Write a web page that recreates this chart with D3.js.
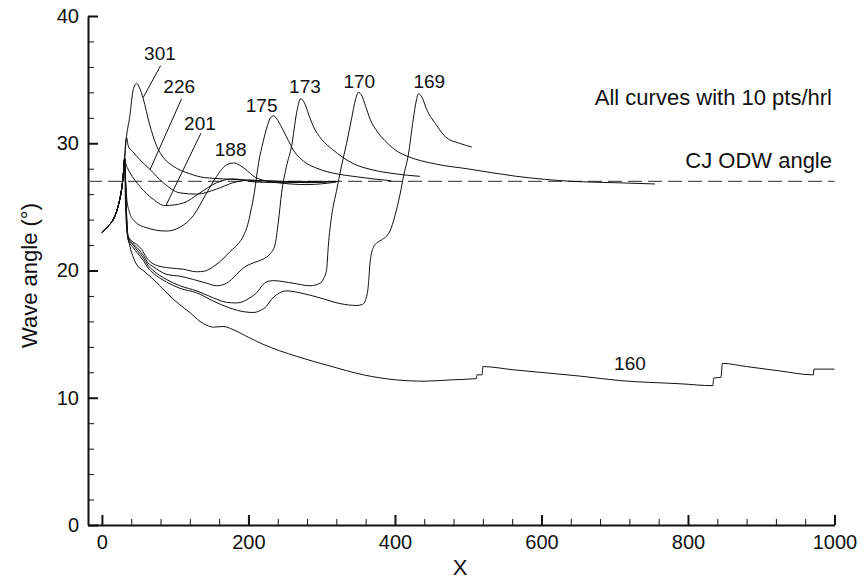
<!DOCTYPE html>
<html>
<head>
<meta charset="utf-8">
<script src="https://cdn.jsdelivr.net/npm/d3@7"></script>
<style>
  body { margin: 0; background: #fff; }
  svg text { font-family: "Liberation Sans", Arial, Helvetica, sans-serif; fill: #111; }
</style>
</head>
<body>
<svg id="chart" width="864" height="580"></svg>
<script>
/*
Wave angle along X for several runs, with the CJ ODW reference angle
*/

// Shared start of every curve (all runs begin on the same ramp)
const ramp = [[0, 23.0], [8.6, 23.5], [15.4, 24.0], [22.3, 25.1], [26.9, 26.4], [29, 27.4], [31, 28.8]];

const curve301 = [[33, 30.2], [38, 32.1], [42.7, 34.2], [47.4, 34.7], [51, 34.4], [56.4, 33.5], [65, 31.5],
  [74.6, 29.8], [85, 28.8], [97.3, 28.2], [120, 27.6], [140, 27.3], [165.6, 27.2], [200, 27.1], [250, 27.0], [320, 27.0]];

const curve226 = [[32.5, 30.2], [33.7, 30.45], [35.9, 29.8], [42.7, 29.3], [51.9, 28.7], [65.5, 27.95], [83.7, 26.9],
  [106.5, 26.1], [129.3, 26.0], [156.6, 26.4], [179.2, 26.9], [202, 27.1], [240, 27.0], [280, 26.9], [320, 27.0]];

const curve201 = [[32.5, 28.4], [34.5, 28.1], [38.2, 27.7], [51.9, 26.6], [70, 25.6], [86, 25.1], [111, 25.3],
  [133.8, 26.1], [156.6, 26.9], [179.2, 27.2], [211, 26.95], [250, 26.9], [320, 27.0]];

const curve188 = [[32.5, 27.0], [34, 25.6], [37, 24.7], [42.7, 24.0], [58.7, 23.4], [88, 23.1], [106.5, 23.4],
  [124.6, 24.3], [143, 26.1], [156.6, 27.4], [170, 28.3], [180, 28.45], [195, 28.0], [210, 27.3], [240, 26.9],
  [280, 26.75], [320, 26.95]];

const curve175 = [[32.5, 26.5], [34, 24.0], [35.9, 22.7], [41, 22.3], [47.4, 22.05], [54.2, 21.65], [61, 21.0],
  [74.7, 20.4], [92.8, 20.2], [111, 20.1], [129.3, 19.9], [140, 19.95], [152, 20.3], [165, 20.9], [175, 21.5],
  [186, 22.1], [193, 22.7], [199, 23.6], [203, 24.6], [208, 26.1], [214, 28.5], [220, 30.1], [226, 31.4], [230, 32.0],
  [234, 32.15], [239, 31.9], [244, 31.4], [252, 30.5], [262, 29.4], [275, 28.6], [295, 28.0], [320, 27.6], [343, 27.4],
  [370, 27.2], [395, 27.05]];

const curve173 = [[32.5, 26.3], [34, 23.8], [36, 22.6], [42.7, 22.1], [48, 21.8], [56.4, 21.2], [63, 20.6], [70, 20.3],
  [88.3, 19.7], [106.5, 19.55], [124.6, 19.3], [143, 19.0], [156.6, 18.8], [170.2, 19.0], [184, 19.7], [193, 20.2],
  [206.6, 20.6], [220.2, 20.9], [229.4, 21.3], [236.2, 22.0], [240.7, 23.75], [245.3, 26.1], [252, 28.2], [259, 29.8],
  [265.8, 32.4], [271.2, 33.5], [277, 33.1], [282, 32.3], [288, 31.4], [300, 30.3], [315, 29.5], [343, 28.4],
  [370, 27.9], [400, 27.6], [434, 27.4]];

const curve170 = [[32.5, 26.2], [34, 23.6], [36, 22.5], [42.7, 22.0], [48, 21.6], [56.4, 21.0], [63, 20.4], [70, 20.0],
  [88, 19.3], [106.5, 18.8], [129.3, 18.4], [152, 17.85], [170, 17.5], [184, 17.45], [202, 17.85], [212, 18.3],
  [220, 18.9], [227, 19.15], [234, 19.2], [261, 19.0], [284, 18.8], [297.6, 19.0], [303, 19.4], [306.8, 20.1],
  [309, 21.9], [313.6, 24.3], [320, 26.2], [327, 28.2], [334, 30.0], [341, 32.0], [346, 33.4], [350, 34.0],
  [355, 33.7], [360, 32.9], [366, 31.9], [376, 30.9], [389, 30.05], [405, 29.3], [416, 29.0], [457, 28.35],
  [498, 28.0], [566, 27.4], [643, 27.0], [700, 26.9], [755, 26.8]];

const curve169 = [[32.5, 26.1], [34, 23.5], [36, 22.4], [42.7, 21.8], [48, 21.4], [56.4, 20.8], [63, 20.2], [70, 19.8],
  [88, 19.1], [106.5, 18.6], [129.3, 18.25], [152, 17.6], [174.7, 17.05], [195, 16.75], [206.6, 16.7], [216, 16.85],
  [224.8, 17.2], [231, 17.7], [238.5, 18.1], [252, 18.4], [270, 18.25], [297.6, 17.85], [325, 17.4], [348, 17.25],
  [356, 17.35], [360, 17.7], [363.6, 18.8], [366, 20.6], [370.4, 21.8], [376, 22.2], [381.8, 22.4], [393.2, 23.1],
  [400, 24.3], [407, 26.0], [412, 27.5], [418, 29.0], [425, 31.9], [429, 33.3], [432, 33.9], [437, 33.6],
  [443, 32.7], [457, 31.4], [470, 30.45], [488, 30.0], [505, 29.7]];

const curve160 = [[32, 25.5], [34, 23.2], [38.2, 21.9], [43, 21.0], [49.6, 20.3], [56.4, 20.0], [65.5, 19.55],
  [79.2, 18.8], [92.8, 18.0], [106.5, 17.3], [120, 16.7], [133.8, 16.0], [143, 15.7], [152, 15.55], [165.6, 15.6],
  [179.2, 15.35], [200, 14.75], [220, 14.2], [266, 13.25], [311, 12.5], [357, 11.8], [402, 11.4], [440, 11.3],
  [475, 11.4], [511, 11.5], [512, 11.8], [519, 11.8], [520, 12.45], [561, 12.2], [598, 12.0], [653, 11.7],
  [707, 11.35], [789, 11.1], [834, 10.95], [835, 11.55], [845, 11.6], [847, 12.7], [880, 12.45], [926, 12.1],
  [971, 11.8], [972, 12.25], [1000, 12.25]];

const runs = ["301", "226", "201", "188", "175", "173", "170", "169", "160"];
const curves = [curve301, curve226, curve201, curve188, curve175, curve173, curve170, curve169, curve160];

// Curve labels, in data units
const labelText = ["301", "226", "201", "188", "175", "173", "170", "169", "160"];
const labelX = [79.2, 105.5, 133.8, 175.7, 218, 277.1, 351.3, 446.8, 720.8];
const labelY = [37.1, 34.5, 31.6, 29.5, 33.0, 34.5, 34.9, 34.9, 12.7];

// Leader lines from label to curve: [x1, y1, x2, y2]
const leaders = [
  [80.1, 36.1, 56.4, 33.6],
  [108.8, 33.5, 65.5, 27.9],
  [135.2, 30.8, 87.4, 25.1],
];

const cjAngle = 27.0;
const xMajor = [0, 200, 400, 600, 800, 1000];
const yMajor = [0, 10, 20, 30, 40];
const xMinor = d3.range(40, 1000, 40).filter((d) => d % 200 !== 0);
const yMinor = d3.range(2, 40, 2).filter((d) => d % 10 !== 0);

const svg = d3.select("#chart");

// The y axis sits a little left of x = 0
const x = d3.scaleLinear().domain([-19, 1000]).range([88, 834.5]);
const y = d3.scaleLinear().domain([0, 40]).range([525, 16]);

// Minor ticks first, then major axes on top
svg.append("g")
  .attr("transform", `translate(0,${y(0)})`)
  .call(d3.axisBottom(x).tickValues(xMinor).tickSize(-6).tickFormat(""))
  .call((g) => g.select(".domain").remove())
  .call((g) => g.selectAll(".tick line").attr("stroke", "#111").attr("stroke-width", 1));

svg.append("g")
  .attr("transform", `translate(${x(-19)},0)`)
  .call(d3.axisLeft(y).tickValues(yMinor).tickSize(-6).tickFormat(""))
  .call((g) => g.select(".domain").remove())
  .call((g) => g.selectAll(".tick line").attr("stroke", "#111").attr("stroke-width", 1));

const gx = svg.append("g")
  .attr("transform", `translate(0,${y(0)})`)
  .call(d3.axisBottom(x).tickValues(xMajor).tickFormat(d3.format("d"))
    .tickSizeInner(-10).tickSizeOuter(0).tickPadding(10));

const gy = svg.append("g")
  .attr("transform", `translate(${x(-19)},0)`)
  .call(d3.axisLeft(y).tickValues(yMajor).tickFormat(d3.format("d"))
    .tickSizeInner(-10).tickSizeOuter(0).tickPadding(9));

[gx, gy].forEach((g) => {
  g.select(".domain").attr("stroke", "#111").attr("stroke-width", 2);
  g.selectAll(".tick line").attr("stroke", "#111").attr("stroke-width", 2);
  g.selectAll(".tick text").attr("font-size", 20).attr("font-family", null);
});

// Axis titles
svg.append("text")
  .attr("x", 460)
  .attr("y", 575)
  .attr("text-anchor", "middle")
  .attr("font-size", 22)
  .text("X");

svg.append("text")
  .attr("transform", `translate(37,${y(20) + 5}) rotate(-90)`)
  .attr("text-anchor", "middle")
  .attr("font-size", 22)
  .text("Wave angle (°)");

// CJ ODW reference angle
svg.append("line")
  .attr("x1", x(-19))
  .attr("x2", x(1000))
  .attr("y1", y(cjAngle))
  .attr("y2", y(cjAngle))
  .attr("stroke", "#555")
  .attr("stroke-width", 1.2)
  .attr("stroke-dasharray", "14,6");

const line = d3.line()
  .x((d) => x(d[0]))
  .y((d) => y(d[1]))
  .curve(d3.curveMonotoneX);

svg.append("g")
  .selectAll("path")
  .data(curves)
  .join("path")
  .attr("class", (d, i) => "run-" + runs[i])
  .attr("fill", "none")
  .attr("stroke", "#111")
  .attr("stroke-width", 1)
  .attr("d", (d) => line(ramp.concat(d)));

svg.append("g")
  .selectAll("line")
  .data(leaders)
  .join("line")
  .attr("x1", (d) => x(d[0]))
  .attr("y1", (d) => y(d[1]))
  .attr("x2", (d) => x(d[2]))
  .attr("y2", (d) => y(d[3]))
  .attr("stroke", "#111")
  .attr("stroke-width", 1);

svg.append("g")
  .selectAll("text")
  .data(labelText)
  .join("text")
  .attr("x", (d, i) => x(labelX[i]))
  .attr("y", (d, i) => y(labelY[i]))
  .attr("dy", "0.35em")
  .attr("text-anchor", "middle")
  .attr("font-size", 19)
  .text((d) => d);

// Notes at top right
svg.append("text")
  .attr("x", 832)
  .attr("y", 105)
  .attr("text-anchor", "end")
  .attr("font-size", 22)
  .text("All curves with 10 pts/hrl");

svg.append("text")
  .attr("x", 832)
  .attr("y", 168)
  .attr("text-anchor", "end")
  .attr("font-size", 22)
  .text("CJ ODW angle");
</script>
</body>
</html>
